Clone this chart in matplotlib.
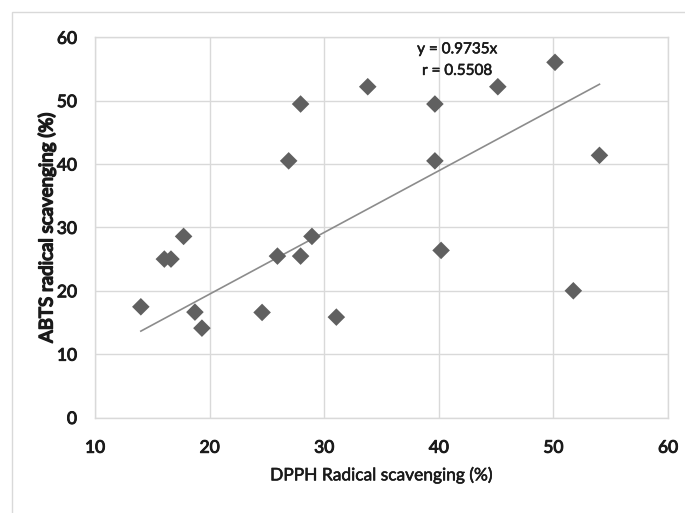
import matplotlib
matplotlib.use("Agg")
import matplotlib.pyplot as plt
import matplotlib.patheffects as pe
from matplotlib.patches import Rectangle
import numpy as np

plt.rcParams['font.family'] = ['Lato', 'DejaVu Sans']

dpph = [14.0, 16.05, 16.63, 17.73, 18.72, 19.33, 24.58, 25.92, 26.9, 27.94, 27.94,
        28.93, 31.06, 33.8, 39.66, 39.66, 40.2, 45.15, 50.14, 51.74, 54.02]
abts = [17.47, 25.0, 25.0, 28.58, 16.63, 14.1, 16.58, 25.47, 40.5, 49.47, 25.47,
        28.58, 15.84, 52.2, 49.47, 40.5, 26.37, 52.2, 56.05, 20.0, 41.37]
slope = 0.9735
eq_text = "y = 0.9735x"
r_text = "r = 0.5508"
xticks = [10, 20, 30, 40, 50, 60]
yticks = [0, 10, 20, 30, 40, 50, 60]

txtc = '#1a1a1a'
fig = plt.figure(figsize=(6.85, 5.13), dpi=100)
fig.patches.append(Rectangle((12/685, -0.1), 1.2, (513-12.5)/513 + 0.1,
                             transform=fig.transFigure, fill=False,
                             edgecolor='#d9d9d9', linewidth=1.0))
ax = fig.add_axes([95/685, 1 - 417.5/513, (668-95)/685, (417.5-37.3)/513])

gridc = '#d9d9d9'
ax.set_xlim(10, 60)
ax.set_ylim(0, 60)
ax.set_xticks(xticks)
ax.set_yticks(yticks)
ax.grid(True, color=gridc, linewidth=1.0)
ax.set_axisbelow(True)
for s in ax.spines.values():
    s.set_color(gridc)
    s.set_linewidth(1.0)
ax.tick_params(length=0, labelsize=12.5, colors=txtc)
ax.tick_params(axis='y', pad=13)
ax.tick_params(axis='x', pad=16)
tick_fx = [pe.withStroke(linewidth=0.7, foreground=txtc)]
for lbl in ax.get_xticklabels() + ax.get_yticklabels():
    lbl.set_path_effects(tick_fx)

xs = np.array([min(dpph), max(dpph)])
ax.plot(xs, slope * xs, color='#8c8c8c', linewidth=1.2, zorder=2)
ax.scatter(dpph, abts, marker='D', s=80, color='#606060', edgecolors='none', zorder=3)

eq_fx = [pe.withStroke(linewidth=0.4, foreground=txtc)]
ax.text(41.6, 58.1, eq_text, ha='center', va='center', fontsize=11, color=txtc,
        path_effects=eq_fx)
ax.text(41.6, 54.7, r_text, ha='center', va='center', fontsize=11, color=txtc,
        path_effects=eq_fx)

ax.set_xlabel("DPPH Radical scavenging (%)", fontsize=12.5, color=txtc, labelpad=8,
              path_effects=[pe.withStroke(linewidth=0.4, foreground=txtc)])
ax.set_ylabel("ABTS radical scavenging (%)", fontsize=13.5,
              color=txtc, labelpad=1,
              path_effects=[pe.withStroke(linewidth=1.1, foreground=txtc)])

fig.savefig("out.png", dpi=100)
